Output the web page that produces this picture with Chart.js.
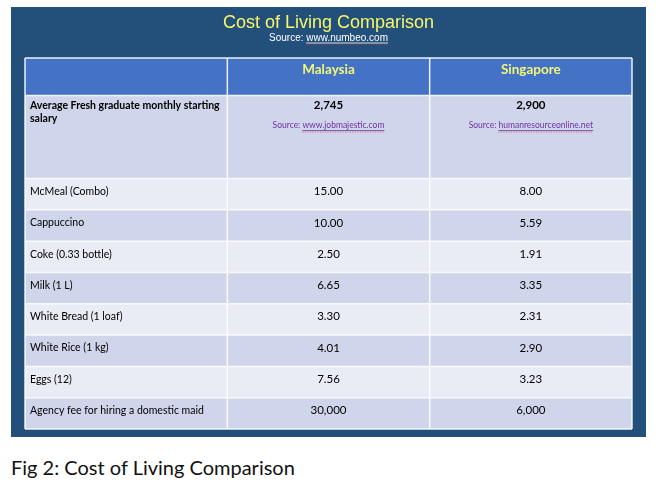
<!DOCTYPE html>
<html>
<head>
<meta charset="utf-8">
<script src="https://cdn.jsdelivr.net/npm/chart.js@4"></script>
<style>
  body { margin: 0; background: #fff; width: 670px; height: 499px; position: relative; overflow: hidden; }
  #panel { position: absolute; left: 11px; top: 7px; width: 635px; height: 430px; background: #23507b; }
  #caption { position: absolute; left: 11px; top: 455px; font-family: Lato, sans-serif; font-size: 20px; color: #111; }
</style>
</head>
<body>
<div id="panel"><canvas id="chart" width="635" height="430"></canvas></div>
<div id="caption">Fig 2: Cost of Living Comparison</div>
<script>
const countries = ['Malaysia', 'Singapore'];
const salaryLabel = ['Average Fresh graduate monthly starting', 'salary'];
const salary = [2745, 2900];
const salarySources = ['www.jobmajestic.com', 'humanresourceonline.net'];
const items = ['McMeal (Combo)', 'Cappuccino', 'Coke (0.33 bottle)', 'Milk (1 L)', 'White Bread (1 loaf)', 'White Rice (1 kg)', 'Eggs (12)', 'Agency fee for hiring a domestic maid'];
const malaysia = [15.00, 10.00, 2.50, 6.65, 3.30, 4.01, 7.56, 30000];
const singapore = [8.00, 5.59, 1.91, 3.35, 2.31, 2.90, 3.23, 6000];

// row heights in table units: header, salary row, then the items
const rowUnits = [1.2, 2.65, 1, 1, 1, 1, 1, 1, 1, 1];
const edges = [0];
rowUnits.forEach(u => edges.push(edges[edges.length - 1] + u));

function fmt(v) {
    if (v >= 1000) return v.toLocaleString('en-US');
    return v.toFixed(2);
}

function linkLine(ctx, x0, x1, y, color) {
    ctx.save();
    ctx.strokeStyle = color;
    ctx.lineWidth = 0.8;
    ctx.beginPath();
    ctx.moveTo(x0, y);
    ctx.lineTo(x1, y);
    ctx.stroke();
    // spell-check squiggle
    ctx.strokeStyle = 'rgba(220,40,40,0.8)';
    ctx.setLineDash([1, 1.5]);
    ctx.beginPath();
    ctx.moveTo(x0, y + 1.5);
    ctx.lineTo(x1, y + 1.5);
    ctx.stroke();
    ctx.restore();
}

const tablePlugin = {
    id: 'table',
    afterDraw(chart) {
        const { ctx, chartArea, scales: { x, y } } = chart;
        const X = v => x.getPixelForValue(v);
        const Y = v => y.getPixelForValue(v);

        ctx.save();
        // cell fills
        for (let r = 0; r < rowUnits.length; r++) {
            let color = '#4472c4';
            if (r > 0) color = (r % 2 === 1) ? '#cfd5ea' : '#e9ebf5';
            ctx.fillStyle = color;
            ctx.fillRect(X(0), Y(edges[r]), X(3) - X(0), Y(edges[r + 1]) - Y(edges[r]));
        }
        // grid lines
        ctx.strokeStyle = 'rgba(255,255,255,0.9)';
        ctx.lineWidth = 1.5;
        edges.forEach(e => {
            ctx.beginPath();
            ctx.moveTo(X(0), Y(e));
            ctx.lineTo(X(3), Y(e));
            ctx.stroke();
        });
        [0, 1, 2, 3].forEach(c => {
            ctx.beginPath();
            ctx.moveTo(X(c), Y(0));
            ctx.lineTo(X(c), Y(edges[edges.length - 1]));
            ctx.stroke();
        });

        // header
        ctx.textBaseline = 'middle';
        ctx.textAlign = 'center';
        ctx.fillStyle = '#f3f57a';
        ctx.font = 'bold 13.5px Lato, sans-serif';
        countries.forEach((c, i) => ctx.fillText(c, X(i + 1.5), Y(edges[0]) + 12));

        // salary row
        const sTop = Y(edges[1]);
        ctx.textAlign = 'left';
        ctx.fillStyle = '#000';
        ctx.font = 'bold 10.5px Lato, sans-serif';
        ctx.fillText(salaryLabel[0], X(0) + 5, sTop + 10);
        ctx.fillText(salaryLabel[1], X(0) + 5, sTop + 23);
        ctx.textAlign = 'center';
        ctx.font = 'bold 11.5px Lato, sans-serif';
        salary.forEach((v, i) => ctx.fillText(fmt(v), X(i + 1.5), sTop + 10));
        ctx.font = '8.5px Lato, sans-serif';
        salarySources.forEach((s, i) => {
            const pre = 'Source: ';
            const wPre = ctx.measureText(pre).width;
            const wUrl = ctx.measureText(s).width;
            const left = X(i + 1.5) - (wPre + wUrl) / 2;
            const ty = sTop + 30;
            ctx.textAlign = 'left';
            ctx.fillStyle = '#7030a0';
            ctx.fillText(pre, left, ty);
            ctx.fillText(s, left + wPre, ty);
            linkLine(ctx, left + wPre, left + wPre + wUrl, ty + 5, '#7030a0');
        });

        // item rows
        ctx.fillStyle = '#000';
        items.forEach((name, i) => {
            const top = Y(edges[i + 2]);
            ctx.textAlign = 'left';
            ctx.font = '10.5px Lato, sans-serif';
            ctx.fillText(name, X(0) + 5, top + 13);
            ctx.textAlign = 'center';
            ctx.font = '11.5px Lato, sans-serif';
            ctx.fillText(fmt(malaysia[i]), X(1.5), top + 13);
            ctx.fillText(fmt(singapore[i]), X(2.5), top + 13);
        });

        // underline for the source link under the title
        ctx.font = '10px "Liberation Sans", Arial, sans-serif';
        const full = 'Source: www.numbeo.com';
        const wFull = ctx.measureText(full).width;
        const wPre = ctx.measureText('Source: ').width;
        const cx = (chartArea.left + chartArea.right) / 2;
        const subMid = chartArea.top - 14 - 6;
        linkLine(ctx, cx - wFull / 2 + wPre, cx + wFull / 2, subMid + 5, '#ffffff');
        ctx.restore();
    }
};

new Chart(document.getElementById('chart'), {
    type: 'scatter',
    data: { datasets: [{ data: [] }] },
    options: {
        responsive: false,
        animation: false,
        layout: { padding: { left: 14, right: 14, bottom: 8, top: 0 } },
        scales: {
            x: { type: 'linear', min: 0, max: 3, display: false },
            y: { type: 'linear', min: 0, max: edges[edges.length - 1], reverse: true, display: false }
        },
        plugins: {
            legend: { display: false },
            tooltip: { enabled: false },
            title: {
                display: true,
                text: 'Cost of Living Comparison',
                color: '#f6f66a',
                font: { family: '"Liberation Sans", Arial, sans-serif', size: 18, weight: 'normal', lineHeight: 1.0 },
                padding: { top: 7, bottom: 0 }
            },
            subtitle: {
                display: true,
                text: 'Source: www.numbeo.com',
                color: '#ffffff',
                font: { family: '"Liberation Sans", Arial, sans-serif', size: 10, lineHeight: 1.2 },
                padding: { top: 0, bottom: 14 }
            }
        }
    },
    plugins: [tablePlugin]
});
</script>
</body>
</html>
